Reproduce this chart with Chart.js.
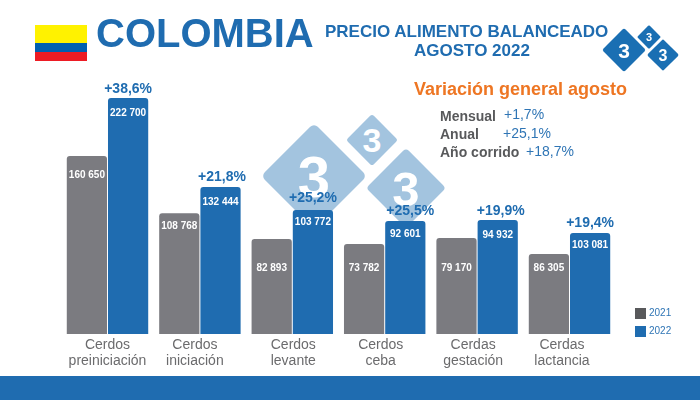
<!DOCTYPE html>
<html>
<head>
    <title>Colombia - Precio alimento balanceado</title>
    <script src="https://cdn.jsdelivr.net/npm/chart.js"></script>
    <style>
        html, body { margin: 0; padding: 0; background: #fff; }
        #page { position: relative; width: 700px; height: 400px; overflow: hidden; font-family: "Liberation Sans", Arial, sans-serif; }
        #page > * { position: absolute; }
        #mark, #logo { left: 0; top: 0; }
        #barChart { left: 0; top: 0; }
        .txt { white-space: nowrap; line-height: 1; }
        .head { color: #1f6cb0; font-weight: bold; }
        .lab { color: #58595b; font-weight: bold; font-size: 14px; }
        .val { color: #2f75b5; font-size: 14px; }
        .leg { color: #2f75b5; font-size: 10px; }
        .box { width: 11px; height: 11px; }
    </style>
</head>
<body>
<div id="page">
    <svg id="mark" width="700" height="400"></svg>
    <canvas id="barChart" width="700" height="400"></canvas>
    <svg id="logo" width="700" height="400"></svg>

    <div style="left:35px;top:25px;width:52px;height:17.5px;background:#fff200"></div>
    <div style="left:35px;top:42.5px;width:52px;height:9px;background:#0060b0"></div>
    <div style="left:35px;top:51.5px;width:52px;height:9.5px;background:#ed1c24"></div>

    <div class="txt head" style="left:96px;top:13px;font-size:40px">COLOMBIA</div>
    <div class="txt head" style="left:325px;top:23px;font-size:17px">PRECIO ALIMENTO BALANCEADO</div>
    <div class="txt head" style="left:414px;top:42px;font-size:17px">AGOSTO 2022</div>

    <div class="txt" style="left:414px;top:80px;font-size:18px;font-weight:bold;color:#ee7623">Variación general agosto</div>
    <div class="txt lab" style="left:440px;top:109px">Mensual</div>
    <div class="txt val" style="left:504px;top:107px">+1,7%</div>
    <div class="txt lab" style="left:440px;top:127px">Anual</div>
    <div class="txt val" style="left:503px;top:126px">+25,1%</div>
    <div class="txt lab" style="left:440px;top:145px">Año corrido</div>
    <div class="txt val" style="left:526px;top:144px">+18,7%</div>

    <div class="box" style="left:635px;top:307.5px;background:#58595b"></div>
    <div class="txt leg" id="leg0" style="left:649px;top:308px"></div>
    <div class="box" style="left:635px;top:326px;background:#1f6cb0"></div>
    <div class="txt leg" id="leg1" style="left:649px;top:326px"></div>

    <div style="left:0;top:376px;width:700px;height:24px;background:#1f6cb0"></div>
</div>
<script>
    const categories = [['Cerdos', 'preiniciación'], ['Cerdos', 'iniciación'], ['Cerdos', 'levante'], ['Cerdos', 'ceba'], ['Cerdas', 'gestación'], ['Cerdas', 'lactancia']];
    const seriesNames = ['2021', '2022'];

    // bar heights as drawn in the picture, the original isn't to scale with its own labels
    const heights2021 = [167970, 113900, 89640, 84930, 90590, 75490];
    const heights2022 = [222700, 138700, 117000, 106630, 107570, 95300];

    // the numbers printed on the bars
    const labels2021 = ['160 650', '108 768', '82 893', '73 782', '79 170', '86 305'];
    const labels2022 = ['222 700', '132 444', '103 772', '92 601', '94 932', '103 081'];
    const variation = ['+38,6%', '+21,8%', '+25,2%', '+25,5%', '+19,9%', '+19,4%'];

    document.getElementById('leg0').textContent = seriesNames[0];
    document.getElementById('leg1').textContent = seriesNames[1];

    // hand placement of text, same as the original slide
    const tickNudge = [0, -5, 1, -4, -4, -7.5];
    const pctNudge = [0, 1.5, 0, 5, 3, 0];
    const pctRise = [9, 10, 12, 10, 9, 10];
    const drop2021 = [19.5, 13, 29.5, 24.5, 30.5, 14.5];
    const drop2022 = [15, 15, 12.5, 13, 15.5, 12];

    function addDiamonds(id, list, fill) {
        let out = '';
        list.forEach(d => {
            const side = d.r * Math.SQRT2;
            out += `<rect x="${d.x - side / 2}" y="${d.y - side / 2}" width="${side}" height="${side}" rx="${d.r * 0.1}" fill="${fill}" transform="rotate(45 ${d.x} ${d.y})"/>`;
            out += `<text x="${d.x}" y="${d.y + d.f * 0.36}" text-anchor="middle" font-family="Liberation Sans" font-weight="bold" font-size="${d.f}" fill="#fff">3</text>`;
        });
        document.getElementById(id).innerHTML = out;
    }
    addDiamonds('mark', [{x: 314, y: 176, r: 53, f: 58}, {x: 372, y: 140, r: 26, f: 34}, {x: 406, y: 188, r: 40, f: 49}], '#a3c4df');
    addDiamonds('logo', [{x: 624, y: 50, r: 22, f: 21}, {x: 649, y: 37, r: 12, f: 11}, {x: 663, y: 55, r: 16, f: 16}], '#1a6fb3');

    const barText = {
        id: 'barText',
        afterDatasetsDraw(chart) {
            const ctx = chart.ctx;
            const xScale = chart.scales.x;
            ctx.save();
            ctx.textAlign = 'center';
            ctx.textBaseline = 'middle';

            [[labels2021, drop2021], [labels2022, drop2022]].forEach((set, ds) => {
                chart.getDatasetMeta(ds).data.forEach((bar, i) => {
                    ctx.font = 'bold 10px "Liberation Sans"';
                    ctx.fillStyle = '#fff';
                    ctx.fillText(set[0][i], bar.x, bar.y + set[1][i]);
                });
            });

            chart.getDatasetMeta(1).data.forEach((bar, i) => {
                ctx.font = 'bold 14px "Liberation Sans"';
                ctx.fillStyle = '#1f6cb0';
                ctx.fillText(variation[i], bar.x + pctNudge[i], bar.y - pctRise[i]);
            });

            categories.forEach((lines, i) => {
                const x = xScale.getPixelForValue(i) + tickNudge[i];
                ctx.font = '14px "Liberation Sans"';
                ctx.fillStyle = '#6b6b6d';
                ctx.fillText(lines[0], x, 345);
                ctx.fillText(lines[1], x, 361);
            });
            ctx.restore();
        }
    };

    new Chart(document.getElementById('barChart').getContext('2d'), {
        type: 'bar',
        data: {
            labels: categories,
            datasets: [{
                label: seriesNames[0],
                data: heights2021,
                backgroundColor: '#7b7b80'
            }, {
                label: seriesNames[1],
                data: heights2022,
                backgroundColor: '#1f6cb0'
            }]
        },
        options: {
            responsive: false,
            animation: false,
            layout: { padding: { left: 61.3, right: 84.3, top: 69, bottom: 0 } },
            datasets: {
                bar: {
                    categoryPercentage: 0.892,
                    barPercentage: 0.976,
                    borderRadius: { topLeft: 3, topRight: 3 },
                    borderSkipped: 'bottom'
                }
            },
            plugins: { legend: { display: false }, tooltip: { enabled: false } },
            scales: {
                x: {
                    grid: { display: false },
                    border: { display: false },
                    ticks: { display: false },
                    afterFit(scale) { scale.height = 66; }
                },
                y: { display: false, min: 0, max: 250000 }
            }
        },
        plugins: [barText]
    });
</script>
</body>
</html>
